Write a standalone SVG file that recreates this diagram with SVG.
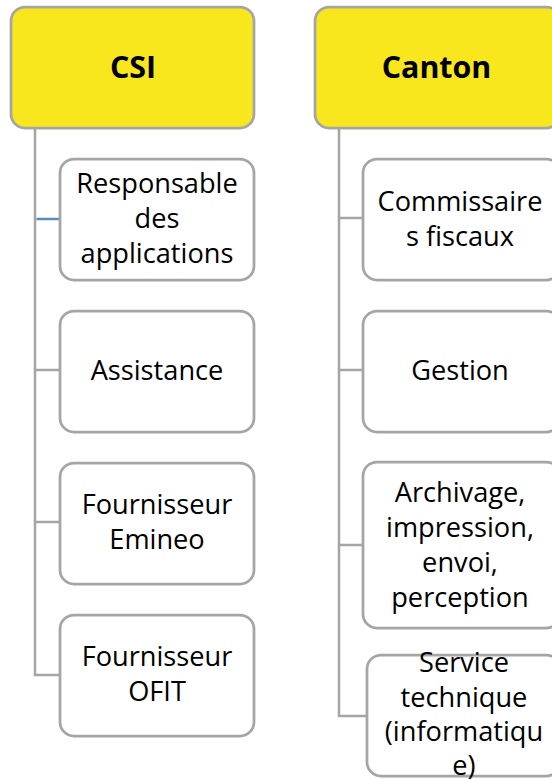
<svg xmlns="http://www.w3.org/2000/svg" width="552" height="779" viewBox="0 0 552 779">
<style>
.h{fill:#f8e71c;stroke:#a5a5a5;stroke-width:2.75}
.b{fill:#fff;stroke:#a5a5a5;stroke-width:2.75}
.c{fill:none;stroke:#a5a5a5;stroke-width:2.5}
text{font-family:"Open Sans","Noto Sans",sans-serif;font-size:27.2px;fill:#000;text-anchor:middle}
.t{font-weight:700;font-size:30.4px}
</style>
<rect width="552" height="779" fill="#fff"/>
<g id="connectors">
<path class="c" d="M35 128V675H60M35 370H60M35 522H60M339 128V716H367M339 218H363M339 370H363M339 545H363"/>
<path d="M36.500 219H60" fill="none" stroke="#5b8db8" stroke-width="2.500"/>
</g>
<g id="csi"><rect class="h" x="11" y="7" width="243" height="121" rx="14"/><text class="t" x="133" y="78">CSI</text></g>
<g id="responsable"><rect class="b" x="60" y="159" width="194" height="121" rx="14"/><text x="157" y="193">Responsable</text><text x="157" y="228">des</text><text x="157" y="263">applications</text></g>
<g id="assistance"><rect class="b" x="60" y="311" width="194" height="121" rx="14"/><text x="157" y="380">Assistance</text></g>
<g id="emineo"><rect class="b" x="60" y="463" width="194" height="121" rx="14"/><text x="157" y="514">Fournisseur</text><text x="157" y="549">Emineo</text></g>
<g id="ofit"><rect class="b" x="60" y="615" width="194" height="121" rx="14"/><text x="157" y="666">Fournisseur</text><text x="157" y="701">OFIT</text></g>
<g id="canton"><rect class="h" x="315" y="7" width="245" height="121" rx="14"/><text class="t" x="436.500" y="78">Canton</text></g>
<g id="commissaires"><rect class="b" x="363" y="159" width="197" height="121" rx="14"/><text x="460" y="211">Commissaire</text><text x="460" y="246">s fiscaux</text></g>
<g id="gestion"><rect class="b" x="363" y="311" width="197" height="121" rx="14"/><text x="460" y="380">Gestion</text></g>
<g id="archivage"><rect class="b" x="363" y="462" width="197" height="166" rx="14"/><text x="460" y="502">Archivage,</text><text x="460" y="537">impression,</text><text x="460" y="572">envoi,</text><text x="460" y="607">perception</text></g>
<g id="service"><rect class="b" x="367" y="655" width="193" height="121" rx="14"/><text x="464" y="672">Service</text><text x="464" y="707">technique</text><text x="464" y="741">(informatiqu</text><text x="464" y="775">e)</text></g>
</svg>
